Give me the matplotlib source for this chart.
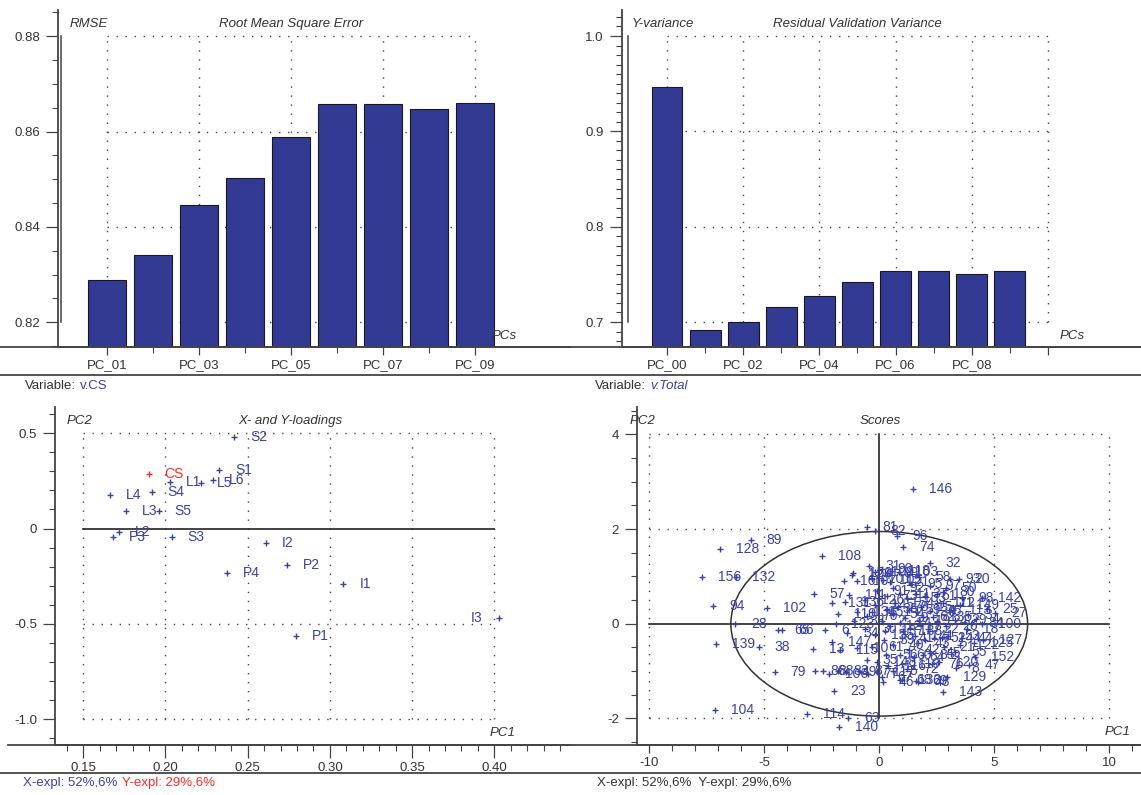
import matplotlib
matplotlib.use('Agg')
import matplotlib.pyplot as plt
from matplotlib.lines import Line2D
from matplotlib.patches import Ellipse
from matplotlib.ticker import MultipleLocator, FixedLocator

plt.rcParams['font.family'] = ['Liberation Sans', 'DejaVu Sans']
plt.rcParams['axes.unicode_minus'] = False

# --- data ---
rmse_labels = ['PC_01', 'PC_02', 'PC_03', 'PC_04', 'PC_05', 'PC_06', 'PC_07', 'PC_08', 'PC_09']
rmse_vals = [0.8288, 0.8342, 0.8446, 0.8502, 0.8588, 0.8657, 0.8657, 0.8647, 0.8659]

resvar_labels = ['PC_00', 'PC_01', 'PC_02', 'PC_03', 'PC_04', 'PC_05', 'PC_06', 'PC_07', 'PC_08', 'PC_09']
resvar_vals = [0.9462, 0.6919, 0.6997, 0.7161, 0.7269, 0.7416, 0.7532, 0.7532, 0.7507, 0.7532]

load_names = ['S2', 'S1', 'CS', 'L1', 'L5', 'L6', 'S4', 'L4', 'L3', 'S5',
              'L2', 'P3', 'S3', 'I2', 'P2', 'P4', 'I1', 'P1', 'I3']
load_pc1 = [0.2416, 0.2327, 0.1897, 0.2025, 0.2218, 0.2291, 0.1916, 0.1662, 0.1760, 0.1958,
            0.1717, 0.1682, 0.2037, 0.2611, 0.2741, 0.2372, 0.3082, 0.2792, 0.4028]
load_pc2 = [0.481, 0.308, 0.287, 0.245, 0.240, 0.253, 0.194, 0.175, 0.093, 0.093,
            -0.019, -0.042, -0.042, -0.075, -0.189, -0.236, -0.290, -0.563, -0.469]
y_vars = ['CS']

score_id = [81, 82, 89, 128, 156, 132, 94, 102, 108, 57,
            28, 139, 38, 65, 66, 6, 13, 123, 147, 79,
            86, 88, 106, 83, 49, 23, 104, 114, 140, 63,
            146, 96, 74, 32, 58, 93, 20, 80, 71, 142,
            3, 25, 27, 100, 127, 44, 152, 47, 8, 129,
            143, 48, 133, 46, 21, 148, 117, 5, 150, 124,
            16, 107, 31, 109, 90, 99, 118, 103, 101, 105,
            121, 73, 11, 153, 37, 51, 1, 112, 131, 136,
            134, 70, 36, 78, 59, 15, 75, 113, 145, 54,
            9, 2, 12, 14, 17, 19, 22, 24, 26, 29,
            18, 84, 155, 30, 33, 34, 10, 35, 39, 40,
            41, 42, 43, 45, 60, 64, 85, 52, 53, 55,
            56, 61, 67, 68, 69, 72, 76, 77, 87, 91,
            92, 95, 97, 98, 110, 111, 115, 116, 119, 120,
            122, 125, 126, 130, 135, 137, 138, 141, 144, 149,
            151, 154, 7, 62, 4, 50]
score_pc1 = [-0.55, -0.19, -5.58, -6.93, -7.70, -6.24, -7.21, -4.88, -2.50, -2.84,
             -6.26, -7.10, -5.23, -4.40, -4.22, -2.36, -2.88, -1.90, -2.07, -4.55,
             -2.80, -2.46, -2.20, -1.80, -1.45, -1.97, -7.14, -3.16, -1.74, -1.35,
             1.45, 0.76, 1.04, 2.20, 1.74, 3.07, 3.45, 2.78, 2.76, 4.45,
             3.87, 4.67, 5.03, 4.45, 4.52, 3.60, 4.16, 3.90, 3.33, 2.93,
             2.76, 1.70, 0.97, 0.17, 2.80, -0.10, -0.10, 0.60, -1.13, -1.20,
             -1.53, -0.98, -0.43, -0.20, 0.10, 0.35, 0.55, 0.85, -0.30, 0.15,
             0.45, 0.32, 0.90, 1.20, 1.60, 2.00, 2.50, 2.50, -2.07, -1.49,
             -0.98, -0.55, 0.32, 0.80, 1.30, 1.80, 2.20, 3.20, -0.20, 0.60,
             1.10, 0.10, 0.45, 0.90, 1.35, 1.75, 2.10, 2.50, 2.90, 3.30,
             3.80, 4.05, -0.19, -0.60, -1.10, -1.40, -0.98, -0.55, 0.20, 0.60,
             1.00, 1.30, 1.70, 2.20, 0.90, 1.50, 1.90, 2.40, 3.00, 3.30,
             0.30, -0.30, 0.10, 0.90, 1.60, 1.20, 2.30, -0.50, -0.90, -0.10,
             0.60, 1.40, 2.20, 3.60, -1.80, -1.30, -1.70, 0.40, 1.00, 2.60,
             3.50, 4.10, -0.60, 1.65, 2.35, 0.25, 1.05, 1.55, 2.75, 3.50,
             -0.30, 0.70, 2.00, 1.90, 4.20, 2.90]
score_pc2 = [2.05, 1.96, 1.77, 1.57, 0.98, 0.99, 0.38, 0.34, 1.44, 0.64,
             -0.01, -0.43, -0.49, -0.13, -0.13, -0.13, -0.53, -0.01, -0.38, -1.01,
             -0.99, -0.99, -1.05, -1.00, -1.01, -1.41, -1.82, -1.91, -2.17, -1.98,
             2.84, 1.85, 1.63, 1.28, 0.98, 0.94, 0.94, 0.68, 0.44, 0.54,
             0.18, 0.32, 0.22, -0.01, -0.34, -0.30, -0.70, -0.87, -0.94, -1.12,
             -1.44, -1.22, -1.19, -1.22, -0.49, -0.80, -1.01, -1.00, 1.08, 1.03,
             0.91, 0.91, 1.22, 1.10, 1.15, 1.08, 1.12, 1.10, 0.95, 0.92,
             0.88, 0.58, 0.62, 0.55, 0.62, 0.58, 0.64, 0.45, 0.43, 0.47,
             0.25, 0.16, 0.32, 0.35, 0.30, 0.35, 0.28, 0.30, 0.40, 0.20,
             0.12, 0.05, -0.05, 0.02, -0.08, 0.05, -0.10, 0.05, -0.05, 0.08,
             -0.10, 0.02, -0.24, -0.10, 0.05, -0.20, -0.52, -0.77, -0.35, -0.45,
             -0.30, -0.55, -0.40, -0.62, -0.66, -0.70, -0.66, -0.30, -0.25, -0.60,
             -0.65, -0.50, -1.12, -1.19, -1.20, -0.95, -0.85, -1.05, -1.00, 0.70,
             0.75, 0.85, 0.80, 0.55, 0.20, 0.60, -0.55, -0.90, -0.85, -0.80,
             -0.45, -0.40, 0.50, 0.25, 0.15, -0.15, -0.15, -0.25, -0.30, 0.40,
             0.25, 0.45, -0.35, 0.15, 0.10, 0.75]

# Hotelling T2 ellipse half axes (PC1, PC2)
ell_a, ell_b = 6.45, 1.95

# --- figure layout in pixels ---
W, H = 1141, 795
BAR = '#333a94'
BLUE = '#3a41a6'
RED = '#ff2a2a'
TXT = '#333333'
DOT = (0, (1, 5.5))
FS = 9.5

fig = plt.figure(figsize=(W / 100, H / 100), dpi=100)
fig.patch.set_facecolor('white')


def px_axes(l, r, t, b):
    return fig.add_axes([l / W, 1 - b / H, (r - l) / W, (b - t) / H])


def ftext(x, y, s, **kw):
    kw.setdefault('color', TXT)
    kw.setdefault('va', 'center')
    kw.setdefault('fontsize', FS)
    return fig.text(x / W, 1 - y / H, s, **kw)


def after(prev, s, gap=3, **kw):
    # put a text right after another one, on the same line
    kw.setdefault('fontsize', FS)
    return fig.axes[0].annotate(s, xy=(1, 0.5), xycoords=prev, xytext=(gap, 0),
                                textcoords='offset points', va='center', ha='left',
                                annotation_clip=False, **kw)


def fline(x0, x1, y):
    fig.add_artist(Line2D([x0 / W, x1 / W], [1 - y / H, 1 - y / H],
                          transform=fig.transFigure, color='#444444', lw=1.3))


def style_axes(ax):
    for s in ['top', 'right']:
        ax.spines[s].set_visible(False)
    for s in ['left', 'bottom']:
        ax.spines[s].set_color('#444444')
        ax.spines[s].set_linewidth(1.3)
    ax.set_facecolor('none')
    ax.tick_params(axis='y', which='major', length=9, width=0.9, pad=4,
                   labelsize=FS, colors='#444444', labelcolor=TXT)
    ax.tick_params(axis='y', which='minor', length=4, width=0.8, colors='#444444')
    ax.tick_params(axis='x', which='major', length=6, width=0.9, pad=3,
                   labelsize=FS, colors='#444444', labelcolor=TXT)
    ax.tick_params(axis='x', which='minor', length=4, width=0.8, colors='#444444')


def grid(ax, xs, ys, solid_y=None):
    for x in xs:
        ax.plot([x, x], [ys[0], ys[-1]], color='#444444', lw=1, ls=DOT, zorder=0.5)
    for y in ys:
        ax.plot([xs[0], xs[-1]], [y, y], color='#444444', lw=1, ls=DOT, zorder=0.5)
    if solid_y is not None:
        ax.plot([xs[0], xs[-1]], [solid_y, solid_y], color='#222222', lw=1.2, zorder=1)


# ---------------- top left: RMSE ----------------
ax1 = px_axes(58, 570, 10, 347)
style_axes(ax1)
xi = list(range(len(rmse_vals)))
ax1.bar(xi, rmse_vals, width=0.82, color=BAR, edgecolor='#1a1a1a', linewidth=0.8, zorder=2)
ax1.set_xlim(-1.065, 10.07)
ax1.set_ylim(0.8148, 0.8855)
ax1.yaxis.set_major_locator(FixedLocator([0.82, 0.84, 0.86, 0.88]))
ax1.set_yticklabels(['0.82', '0.84', '0.86', '0.88'])
ax1.yaxis.set_minor_locator(MultipleLocator(0.005))
ax1.set_xticks(xi[::2])
ax1.set_xticklabels(rmse_labels[::2])
ax1.set_xticks(xi[1::2], minor=True)
grid(ax1, xi[::2], [0.82, 0.84, 0.86, 0.88])
ax1.plot([-1.0, -1.0], [0.82, 0.88], color='#444444', lw=1.1, clip_on=False)
ftext(70, 24, 'RMSE', style='italic')
ftext(291, 24, 'Root Mean Square Error', style='italic', ha='center')
ftext(492, 336, 'PCs', style='italic')
t = ftext(25, 386, 'Variable:')
after(t, 'v.CS', color=BLUE)

# ---------------- top right: residual validation variance ----------------
ax2 = px_axes(622, 1141, 10, 347)
style_axes(ax2)
xj = list(range(len(resvar_vals)))
ax2.bar(xj, resvar_vals, width=0.81, color=BAR, edgecolor='#1a1a1a', linewidth=0.8, zorder=2)
ax2.set_xlim(-1.18, 12.44)
ax2.set_ylim(0.6738, 1.0273)
ax2.yaxis.set_major_locator(FixedLocator([0.7, 0.8, 0.9, 1.0]))
ax2.set_yticklabels(['0.7', '0.8', '0.9', '1.0'])
ax2.yaxis.set_minor_locator(MultipleLocator(0.01))
ax2.set_xticks(list(range(0, len(resvar_vals) + 1, 2)))
ax2.set_xticklabels(resvar_labels[::2] + [''])
ax2.set_xticks(xj[1::2], minor=True)
grid(ax2, list(range(0, len(resvar_vals) + 1, 2)), [0.7, 0.8, 0.9, 1.0])
ax2.plot([-1.02, -1.02], [0.7, 1.0], color='#444444', lw=1.1, clip_on=False)
ftext(632, 24, 'Y-variance', style='italic')
ftext(857, 24, 'Residual Validation Variance', style='italic', ha='center')
ftext(1060, 336, 'PCs', style='italic')
t = ftext(595, 386, 'Variable:')
after(t, 'v.Total', color=BLUE, style='italic')

fline(0, W, 347)
fline(0, W, 375)

# ---------------- bottom left: loadings ----------------
ax3 = px_axes(55, 570, 407, 745)
style_axes(ax3)
ax3.set_xlim(0.1328, 0.446)
ax3.set_ylim(-1.1365, 0.638)
ax3.set_xticks([0.15, 0.20, 0.25, 0.30, 0.35, 0.40])
ax3.set_xticklabels(['0.15', '0.20', '0.25', '0.30', '0.35', '0.40'])
ax3.xaxis.set_minor_locator(MultipleLocator(0.01))
ax3.set_yticks([-1.0, -0.5, 0, 0.5])
ax3.set_yticklabels(['-1.0', '-0.5', '0', '0.5'])
ax3.yaxis.set_minor_locator(MultipleLocator(0.1))
ax3.tick_params(axis='x', which='major', length=9)
grid(ax3, [0.15, 0.20, 0.25, 0.30, 0.35, 0.40], [-1.0, -0.5, 0.5], solid_y=0)
for name, x, y in zip(load_names, load_pc1, load_pc2):
    c = RED if name in y_vars else BLUE
    ax3.plot(x, y, marker='+', ms=4, mew=1, color=c, zorder=3)
    if x > 0.38:
        ax3.annotate(name, (x, y), xytext=(-12, 0), textcoords='offset points',
                     ha='right', va='center', fontsize=FS + 0.5, color=c)
    else:
        ax3.annotate(name, (x, y), xytext=(11.5, 0), textcoords='offset points',
                     ha='left', va='center', fontsize=FS + 0.5, color=c)
ftext(67, 421, 'PC2', style='italic')
ftext(290, 421, 'X- and Y-loadings', style='italic', ha='center')
ftext(490, 733, 'PC1', style='italic')
t = ftext(23, 783, 'X-expl: 52%,6%', color=BLUE)
after(t, 'Y-expl: 29%,6%', color=RED)

# ---------------- bottom right: scores ----------------
ax4 = px_axes(637, 1141, 407, 745)
style_axes(ax4)
ax4.set_xlim(-10.53, 11.38)
ax4.set_ylim(-2.56, 4.58)
ax4.set_xticks([-10, -5, 0, 5, 10])
ax4.xaxis.set_minor_locator(MultipleLocator(1))
ax4.set_yticks([-2, 0, 2, 4])
ax4.yaxis.set_minor_locator(MultipleLocator(0.5))
grid(ax4, [-10, -5, 5, 10], [-2, 2, 4])
ax4.plot([-10, 10], [0, 0], color='#222222', lw=1.2, zorder=1)
ax4.plot([0, 0], [-2, 4], color='#222222', lw=1.2, zorder=1)
ax4.add_patch(Ellipse((0, 0), 2 * ell_a, 2 * ell_b, fill=False, ec='#333333', lw=1.1, zorder=1))
ax4.plot(score_pc1, score_pc2, ls='none', marker='+', ms=4, mew=1, color=BLUE, zorder=3)
for sid, x, y in zip(score_id, score_pc1, score_pc2):
    ax4.annotate(str(sid), (x, y), xytext=(11.5, 0), textcoords='offset points',
                 ha='left', va='center', fontsize=FS + 0.5, color=BLUE)
ftext(630, 421, 'PC2', style='italic')
ftext(880, 421, 'Scores', style='italic', ha='center')
ftext(1105, 732, 'PC1', style='italic')
ftext(597, 783, 'X-expl: 52%,6%  Y-expl: 29%,6%')

fline(8, W, 745)
fline(0, W, 773)

fig.savefig('out.png', dpi=100)
